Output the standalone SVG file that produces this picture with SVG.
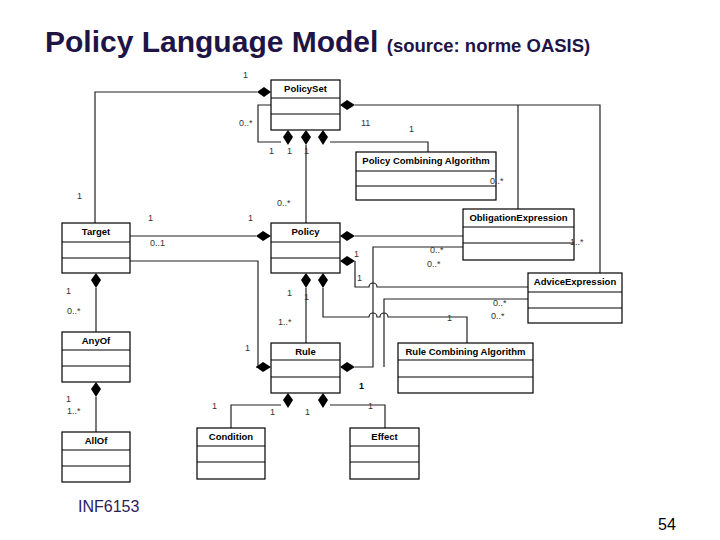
<svg xmlns="http://www.w3.org/2000/svg" width="720" height="540" viewBox="0 0 720 540">
<style>
.box{fill:#fff;stroke:#000;stroke-width:1.2}
.sep{stroke:#000;stroke-width:1.2}
.cn{fill:none;stroke:#222;stroke-width:1.2}
.nm{font-family:"Liberation Sans",Arial,sans-serif;font-size:9.5px;font-weight:bold;text-anchor:middle}
.m{font-family:"Liberation Sans",Arial,sans-serif;font-size:9px;fill:#333}
.d{fill:#000}
</style>
<rect width="720" height="540" fill="#fff"/>
<text x="45" y="52" font-family="Liberation Sans,Arial,sans-serif" font-size="30" font-weight="bold" fill="#1f1446">Policy Language Model <tspan font-size="18.5">(source: norme OASIS)</tspan></text>
<text x="78" y="512" font-family="Liberation Sans,Arial,sans-serif" font-size="16" fill="#2e1a5e">INF6153</text>
<text x="658" y="530" font-family="Liberation Sans,Arial,sans-serif" font-size="16">54</text>

<g id="connectors">
<path class="cn" d="M95,223 V92 H257"/>
<path class="cn" d="M355,105 H600 V273"/>
<path class="cn" d="M518,105 V209"/>
<path class="cn" d="M271,105 H258 V142 H281"/>
<path class="cn" d="M306,145 V223"/>
<path class="cn" d="M330,142 H428 V152"/>
<path class="cn" d="M130,236 H256"/>
<path class="cn" d="M130,261 H258 V367 H256"/>
<path class="cn" d="M355,236 H463"/>
<path class="cn" d="M355,261 V287 H369 a4,4 0 0 1 8,0 H528"/>
<path class="cn" d="M463,247 H373 V367 H355"/>
<path class="cn" d="M528,299 H384 V367"/>
<path class="cn" d="M306,288 V343"/>
<path class="cn" d="M323,288 V317 H369 a4,4 0 0 1 8,0 H380 a4,4 0 0 1 8,0 H467 V343"/>
<path class="cn" d="M96,288 V332"/>
<path class="cn" d="M96,397 V432"/>
<path class="cn" d="M281,405 H231 V428"/>
<path class="cn" d="M330,405 H385 V428"/>
<g class="d">
<path d="M257,92 l7,-5 l7,5 l-7,5z"/>
<path d="M340,105 l7,-5 l8,5 l-8,5z"/>
<path d="M288,130 l-5,7 l5,8 l5,-8z"/>
<path d="M306,130 l-5,7 l5,8 l5,-8z"/>
<path d="M323,130 l-5,7 l5,8 l5,-8z"/>
<path d="M256,236 l7,-5 l8,5 l-8,5z"/>
<path d="M256,367 l7,-5 l8,5 l-8,5z"/>
<path d="M340,236 l7,-5 l8,5 l-8,5z"/>
<path d="M340,261 l7,-5 l8,5 l-8,5z"/>
<path d="M340,367 l7,-5 l8,5 l-8,5z"/>
<path d="M306,273 l-5,7 l5,8 l5,-8z"/>
<path d="M323,273 l-5,7 l5,8 l5,-8z"/>
<path d="M96,273 l-5,7 l5,8 l5,-8z"/>
<path d="M96,382 l-5,7 l5,8 l5,-8z"/>
<path d="M288,393 l-5,7 l5,8 l5,-8z"/>
<path d="M323,393 l-5,7 l5,8 l5,-8z"/>
</g>
</g>

<g id="PolicySet"><rect class="box" x="271" y="80" width="69" height="50"/><line class="sep" x1="271" y1="98" x2="340" y2="98"/><line class="sep" x1="271" y1="114" x2="340" y2="114"/><text class="nm" x="305.5" y="92">PolicySet</text></g>
<g id="PCA"><rect class="box" x="356" y="152" width="140" height="48"/><line class="sep" x1="356" y1="171" x2="496" y2="171"/><line class="sep" x1="356" y1="186" x2="496" y2="186"/><text class="nm" x="426" y="164">Policy Combining Algorithm</text></g>
<g id="Obligation"><rect class="box" x="463" y="209" width="111" height="51"/><line class="sep" x1="463" y1="227" x2="574" y2="227"/><line class="sep" x1="463" y1="243" x2="574" y2="243"/><text class="nm" x="518.5" y="221">ObligationExpression</text></g>
<g id="Target"><rect class="box" x="62" y="223" width="68" height="50"/><line class="sep" x1="62" y1="242" x2="130" y2="242"/><line class="sep" x1="62" y1="258" x2="130" y2="258"/><text class="nm" x="96" y="235">Target</text></g>
<g id="Policy"><rect class="box" x="271" y="223" width="69" height="50"/><line class="sep" x1="271" y1="242" x2="340" y2="242"/><line class="sep" x1="271" y1="258" x2="340" y2="258"/><text class="nm" x="305.5" y="235">Policy</text></g>
<g id="Advice"><rect class="box" x="528" y="273" width="94" height="50"/><line class="sep" x1="528" y1="292" x2="622" y2="292"/><line class="sep" x1="528" y1="308" x2="622" y2="308"/><text class="nm" x="575" y="285">AdviceExpression</text></g>
<g id="AnyOf"><rect class="box" x="62" y="332" width="68" height="50"/><line class="sep" x1="62" y1="350" x2="130" y2="350"/><line class="sep" x1="62" y1="366" x2="130" y2="366"/><text class="nm" x="96" y="344">AnyOf</text></g>
<g id="Rule"><rect class="box" x="271" y="343" width="69" height="50"/><line class="sep" x1="271" y1="360" x2="340" y2="360"/><line class="sep" x1="271" y1="377" x2="340" y2="377"/><text class="nm" x="305.5" y="355">Rule</text></g>
<g id="RCA"><rect class="box" x="398" y="343" width="135" height="50"/><line class="sep" x1="398" y1="360" x2="533" y2="360"/><line class="sep" x1="398" y1="377" x2="533" y2="377"/><text class="nm" x="465.5" y="355">Rule Combining Algorithm</text></g>
<g id="AllOf"><rect class="box" x="62" y="432" width="68" height="50"/><line class="sep" x1="62" y1="450" x2="130" y2="450"/><line class="sep" x1="62" y1="466" x2="130" y2="466"/><text class="nm" x="96" y="444">AllOf</text></g>
<g id="Condition"><rect class="box" x="197" y="428" width="68" height="51"/><line class="sep" x1="197" y1="446" x2="265" y2="446"/><line class="sep" x1="197" y1="462" x2="265" y2="462"/><text class="nm" x="231" y="440">Condition</text></g>
<g id="Effect"><rect class="box" x="350" y="428" width="69" height="51"/><line class="sep" x1="350" y1="446" x2="419" y2="446"/><line class="sep" x1="350" y1="462" x2="419" y2="462"/><text class="nm" x="384.5" y="440">Effect</text></g>

<g id="labels" class="m">
<text x="243" y="78">1</text><text x="239" y="126">0..*</text><text x="361" y="126">11</text><text x="409" y="132">1</text>
<text x="269" y="154">1</text><text x="287" y="154">1</text><text x="304" y="154">1</text>
<text x="490" y="184">0..*</text><text x="77" y="199">1</text><text x="277" y="206">0..*</text>
<text x="148" y="221">1</text><text x="248" y="221">1</text><text x="150" y="246">0..1</text>
<text x="570" y="245">1..*</text><text x="354" y="257">1</text><text x="430" y="253">0..*</text><text x="427" y="267">0..*</text>
<text x="357" y="281">1</text><text x="66" y="294">1</text><text x="67" y="314">0..*</text>
<text x="287" y="296">1</text><text x="304" y="300">1</text><text x="493" y="306">0..*</text><text x="491" y="319">0..*</text>
<text x="447" y="321">1</text><text x="278" y="325">1..*</text><text x="245" y="351">1</text>
<text x="359" y="389" font-weight="bold" fill="#000">1</text>
<text x="66" y="402">1</text><text x="67" y="414">1..*</text>
<text x="212" y="409">1</text><text x="270" y="415">1</text><text x="305" y="415">1</text><text x="368" y="409">1</text>
</g>
</svg>
